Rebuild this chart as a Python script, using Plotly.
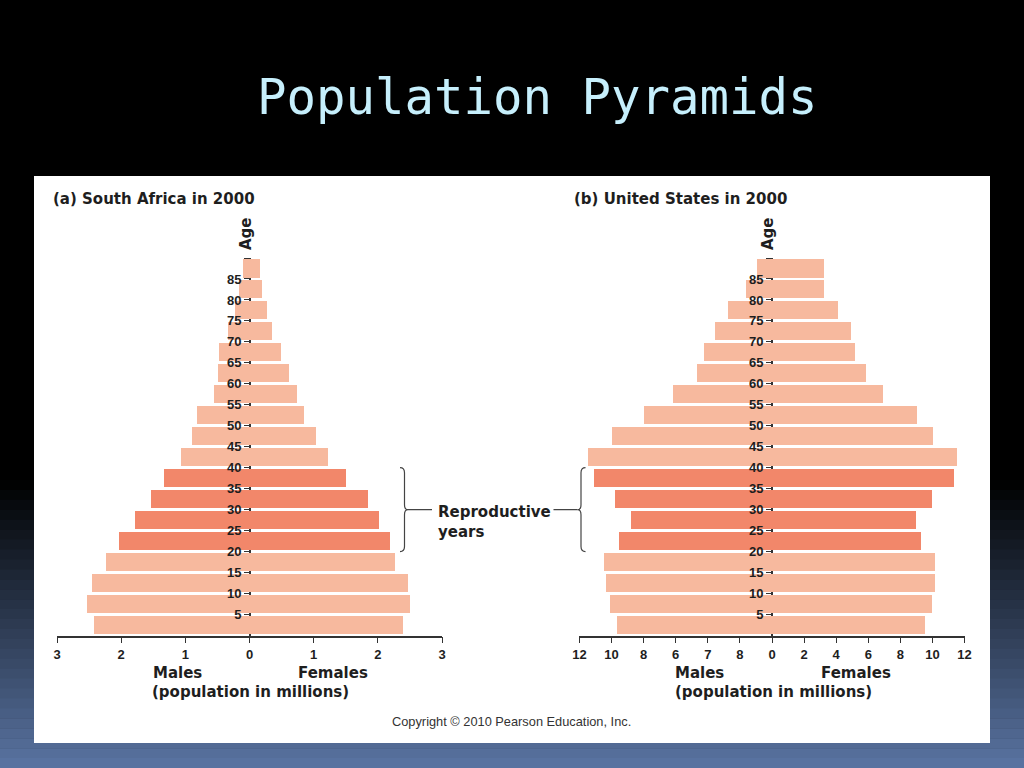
import plotly.graph_objects as go

# ---------------- data ----------------
age_groups = ["0-4", "5-9", "10-14", "15-19", "20-24", "25-29", "30-34", "35-39", "40-44",
              "45-49", "50-54", "55-59", "60-64", "65-69", "70-74", "75-79", "80-84", "85-89"]
age_mid = [2.5, 7.5, 12.5, 17.5, 22.5, 27.5, 32.5, 37.5, 42.5,
           47.5, 52.5, 57.5, 62.5, 67.5, 72.5, 77.5, 82.5, 87.5]
reproductive = [False, False, False, False, True, True, True, True, False,
                False, False, False, False, False, False, False, False, False]

sa_male = [2.43, 2.54, 2.46, 2.24, 2.03, 1.78, 1.53, 1.34, 1.07,
           0.90, 0.82, 0.55, 0.49, 0.47, 0.33, 0.23, 0.17, 0.10]
sa_female = [2.39, 2.50, 2.47, 2.27, 2.19, 2.02, 1.85, 1.50, 1.23,
             1.03, 0.85, 0.74, 0.61, 0.49, 0.35, 0.28, 0.20, 0.16]

us_male = [9.66, 10.07, 10.30, 10.45, 9.49, 8.76, 9.76, 11.09, 11.46,
           9.97, 7.98, 6.15, 4.67, 4.20, 3.55, 2.70, 1.60, 0.89]
us_female = [9.57, 10.01, 10.16, 10.16, 9.28, 9.01, 10.01, 11.36, 11.55,
             10.05, 9.03, 6.96, 5.90, 5.19, 4.96, 4.15, 3.28, 3.28]

age_tickvals = [5, 10, 15, 20, 25, 30, 35, 40, 45, 50, 55, 60, 65, 70, 75, 80, 85, 90]
age_ticktext = ["5", "10", "15", "20", "25", "30", "35", "40", "45", "50", "55", "60",
                "65", "70", "75", "80", "85", ""]

sa_xticks = [-3, -2, -1, 0, 1, 2, 3]
sa_xlabels = ["3", "2", "1", "0", "1", "2", "3"]
us_xticks = [-12, -10, -8, -6, -4, -2, 0, 2, 4, 6, 8, 10, 12]
us_xlabels = ["12", "10", "8", "6", "7", "8", "0", "2", "4", "6", "8", "10", "12"]

# ---------------- style ----------------
W, H = 1024, 768
LIGHT = "#F7B99E"
DARK = "#F2876A"
INK = "#1E1E1E"
FONT = "Liberation Sans, Arial, sans-serif"
BOLD = "DejaVu Sans, sans-serif"


def px(x):
    return x / W


def py(y):
    return 1 - y / H


bar_colors = [DARK if r else LIGHT for r in reproductive]
bar_width = 4.3

fig = go.Figure()
for xa, ya, male, female in [("x", "y", sa_male, sa_female), ("x2", "y2", us_male, us_female)]:
    fig.add_trace(go.Bar(y=age_mid, x=[-v for v in male], orientation="h", width=bar_width,
                         marker=dict(color=bar_colors, line=dict(width=0)),
                         xaxis=xa, yaxis=ya, name="Males", customdata=age_groups,
                         hovertemplate="%{customdata}: %{x}<extra>Males</extra>"))
    fig.add_trace(go.Bar(y=age_mid, x=female, orientation="h", width=bar_width,
                         marker=dict(color=bar_colors, line=dict(width=0)),
                         xaxis=xa, yaxis=ya, name="Females", customdata=age_groups,
                         hovertemplate="%{customdata}: %{x}<extra>Females</extra>"))

tickfont = dict(family=FONT, size=13, color=INK, weight="bold")
y_domain = [py(635.5), py(258)]


def xaxis_cfg(domain, rng, tv, tt, anchor):
    return dict(domain=domain, range=rng, anchor=anchor, tickvals=tv, ticktext=tt,
                showline=True, linecolor="#333", linewidth=1.5, ticks="outside", ticklen=6,
                tickcolor="#333", tickwidth=1.2, tickfont=tickfont, showgrid=False,
                zeroline=True, zerolinecolor="#333", zerolinewidth=1.5, fixedrange=True,
                automargin=False)


def yaxis_cfg(position):
    return dict(domain=y_domain, range=[0, 90], anchor="free", position=position,
                tickvals=age_tickvals, ticktext=age_ticktext, ticks="outside", ticklen=6,
                tickcolor="#333", tickwidth=1.2, tickfont=tickfont, showline=False,
                showgrid=False, zeroline=False, fixedrange=True, automargin=False)


fig.update_layout(
    width=W, height=H, margin=dict(l=0, r=0, t=0, b=0, pad=0, autoexpand=False),
    paper_bgcolor="#000000", plot_bgcolor="rgba(0,0,0,0)",
    showlegend=False, barmode="overlay", bargap=0,
    xaxis=xaxis_cfg([px(57), px(442)], [-3, 3], sa_xticks, sa_xlabels, "y"),
    yaxis=yaxis_cfg(px(250)),
    xaxis2=xaxis_cfg([px(579.4), px(964.6)], [-12, 12], us_xticks, us_xlabels, "y2"),
    yaxis2=yaxis_cfg(px(772)),
)

shapes = []
# background gradient strips
top, bottom = 480, 768
n = 29
for i in range(n):
    y0 = top + (bottom - top) * i / n
    y1 = top + (bottom - top) * (i + 1) / n + 0.5
    t = (i + 0.5) / n
    c = "rgb(%d,%d,%d)" % (int(90 * t), int(117 * t), int(163 * t))
    shapes.append(dict(type="rect", xref="paper", yref="paper", x0=0, x1=1,
                       y0=py(y1), y1=py(y0), fillcolor=c, line=dict(width=0), layer="below"))
# white panel
shapes.append(dict(type="rect", xref="paper", yref="paper", x0=px(34), x1=px(990),
                   y0=py(743), y1=py(176), fillcolor="white", line=dict(width=0), layer="below"))

brace_line = dict(color="#444", width=1.2)
# left brace "}" spanning ages 20-40
lb = ("M {a},40 Q {b},40 {b},38.8 L {b},31.2 Q {b},30 {c},30 Q {b},30 {b},28.8 "
      "L {b},21.2 Q {b},20 {a},20").format(a=px(400), b=px(404.5), c=px(408))
shapes.append(dict(type="path", xref="paper", yref="y", path=lb, line=brace_line))
shapes.append(dict(type="line", xref="paper", yref="y", x0=px(408), x1=px(432), y0=30, y1=30,
                   line=brace_line))
# right brace "{"
rb = ("M {a},40 Q {b},40 {b},38.8 L {b},31.2 Q {b},30 {c},30 Q {b},30 {b},28.8 "
      "L {b},21.2 Q {b},20 {a},20").format(a=px(585.5), b=px(581), c=px(577.5))
shapes.append(dict(type="path", xref="paper", yref="y", path=rb, line=brace_line))
shapes.append(dict(type="line", xref="paper", yref="y", x0=px(553.5), x1=px(577.5), y0=30, y1=30,
                   line=brace_line))
fig.update_layout(shapes=shapes)

ann = []


def text(x, y, s, size=15, bold=True, xanchor="center", color=INK, family=BOLD, angle=0, align="center"):
    ann.append(dict(x=px(x), y=py(y), xref="paper", yref="paper", text=s, showarrow=False,
                    xanchor=xanchor, yanchor="middle", textangle=angle, align=align,
                    font=dict(family=family, size=size, color=color,
                              weight="bold" if bold else "normal")))


text(537, 97, "Population Pyramids", size=49, bold=False, color="#C6EFFC",
     family="DejaVu Sans Mono, monospace")
text(51, 199, "(a) South Africa in 2000", xanchor="left")
text(572, 199, "(b) United States in 2000", xanchor="left")
text(246, 234, "Age", angle=-90)
text(768, 234, "Age", angle=-90)
text(177.5, 673, "Males")
text(333, 673, "Females")
text(250, 692, "(population in millions)")
text(699.5, 673, "Males")
text(855.5, 673, "Females")
text(773, 692, "(population in millions)")
text(435.5, 522, "Reproductive<br>years", xanchor="left", align="left")
text(511, 721, "Copyright © 2010 Pearson Education, Inc.", size=12.8, bold=False, color="#333",
     family=FONT)
fig.update_layout(annotations=ann)

fig.write_html("out.html", config={"displayModeBar": False},
               post_script="document.body.style.margin='0';document.body.style.overflow='hidden';")
